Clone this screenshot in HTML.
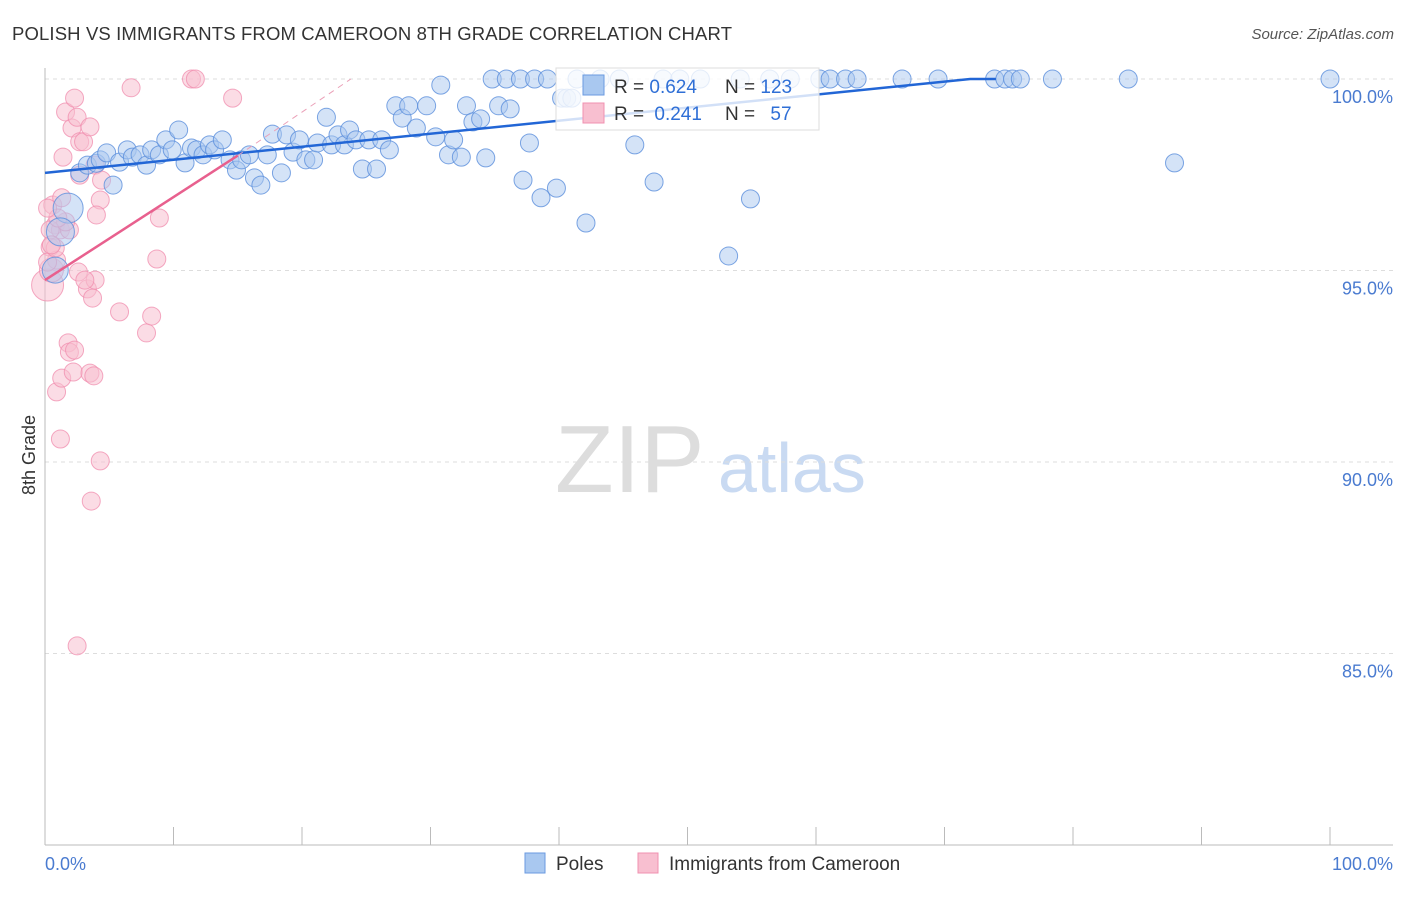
<!DOCTYPE html>
<html><head><meta charset="utf-8"><style>
body{margin:0;background:#fff;font-family:"Liberation Sans",sans-serif;}
svg text{font-family:"Liberation Sans",sans-serif;}
</style></head><body>
<svg id="c" width="1406" height="892" xmlns="http://www.w3.org/2000/svg">
<text x="12" y="40" font-size="18.5" fill="#333" textLength="720">POLISH VS IMMIGRANTS FROM CAMEROON 8TH GRADE CORRELATION CHART</text>
<text x="1394" y="39" font-size="15" fill="#555" font-style="italic" text-anchor="end">Source: ZipAtlas.com</text>
<text x="35" y="455" font-size="18" fill="#333" text-anchor="middle" transform="rotate(-90 35 455)">8th Grade</text>
<text x="555" y="492" font-size="96" fill="#ddd" font-family="Liberation Serif">ZIP</text>
<text x="718" y="492" font-size="70" fill="#c9daf2">atlas</text>
<g id="grid"></g><g id="pts"></g><g id="lines"></g>
<g>
<rect x="556" y="68" width="263" height="62" fill="#fff" fill-opacity="0.8" stroke="#ddd"/>
<rect x="583" y="75" width="21" height="20" fill="#a9c8f0" stroke="#6a9ae0"/>
<rect x="583" y="103" width="21" height="20" fill="#f8bfd0" stroke="#f090b0"/>
<text x="614" y="93" font-size="19" fill="#333">R = <tspan fill="#2f6fd6">0.624</tspan></text>
<text x="725" y="93" font-size="19" fill="#333">N = <tspan fill="#2f6fd6">123</tspan></text>
<text x="614" y="120" font-size="19" fill="#333">R = <tspan fill="#2f6fd6" dx="5">0.241</tspan></text>
<text x="725" y="120" font-size="19" fill="#333">N = <tspan fill="#2f6fd6" dx="10">57</tspan></text>
</g>
<g>
<rect x="525" y="853" width="20" height="20" fill="#a9c8f0" stroke="#6a9ae0"/>
<text x="556" y="870" font-size="19" fill="#333">Poles</text>
<rect x="638" y="853" width="20" height="20" fill="#f8bfd0" stroke="#f090b0"/>
<text x="669" y="870" font-size="19" fill="#333">Immigrants from Cameroon</text>
</g>
</svg>
<script>
const yTicks=[100,95,90,85];
const xTickLabels=["0.0%","100.0%"];
const polesX=[1.8,1.2,0.8,2.7,3.3,4.0,4.3,4.8,5.3,5.8,6.4,6.8,7.4,7.9,8.3,8.9,9.4,9.9,10.4,10.9,11.4,11.8,12.3,12.8,13.2,13.8,14.4,14.9,15.3,15.9,16.3,16.8,17.3,17.7,18.4,18.8,19.3,19.8,20.3,20.9,21.2,21.9,22.3,22.8,23.3,23.7,24.2,24.7,25.2,25.8,26.2,26.8,27.3,27.8,28.3,28.9,29.7,30.4,30.8,31.4,31.8,32.4,32.8,33.3,33.9,34.3,34.8,35.3,35.9,36.2,37.0,37.2,37.7,38.1,38.6,39.1,39.8,40.2,41.4,42.1,43.2,44.7,45.9,47.4,48.1,49.4,51.0,53.2,54.1,54.9,56.4,58.0,60.3,61.1,62.3,63.2,66.7,69.5,73.9,74.7,75.3,75.9,78.4,84.3,87.9,100,40.6,41.0];
const polesY=[96.63,96.01,95.01,97.55,97.75,97.8,97.89,98.07,97.23,97.83,98.15,97.96,98.02,97.75,98.15,98.02,98.41,98.15,98.67,97.81,98.2,98.15,98.02,98.28,98.15,98.41,97.89,97.62,97.89,98.02,97.42,97.23,98.02,98.56,97.55,98.54,98.09,98.41,97.89,97.89,98.33,99.0,98.28,98.54,98.28,98.67,98.41,97.65,98.41,97.65,98.41,98.15,99.3,98.98,99.3,98.72,99.3,98.49,99.84,98.02,98.41,97.96,99.3,98.88,98.96,97.94,100,99.3,100,99.22,100,97.36,98.33,100,96.9,100,97.15,99.5,100,96.24,100,100,98.28,97.31,100,100,100,95.38,100,96.87,100,100,100,100,100,100,100,100,100,100,100,100,100,100,97.81,100,99.5,99.5];
const polesR=[15,14,13,9,9,9,9,9,9,9,9,9,9,9,9,9,9,9,9,9,9,9,9,9,9,9,9,9,9,9,9,9,9,9,9,9,9,9,9,9,9,9,9,9,9,9,9,9,9,9,9,9,9,9,9,9,9,9,9,9,9,9,9,9,9,9,9,9,9,9,9,9,9,9,9,9,9,9,9,9,9,9,9,9,9,9,9,9,9,9,9,9,9,9,9,9,9,9,9,9,9,9,9,9,9,9,9,9];
const camX=[0.2,0.5,0.4,0.8,0.6,1.2,0.9,1.4,1.6,2.1,2.3,2.5,2.7,3.0,3.5,2.7,3.9,4.3,4.4,4.0,0.9,1.3,1.8,1.9,2.2,2.3,3.3,3.7,3.9,3.5,3.8,4.3,3.6,2.5,1.2,5.8,7.9,8.3,8.7,8.9,6.7,11.4,11.7,14.6,2.6,3.1,1.9,1.6,0.4,1.0,0.2,0.8,1.3,0.2,0.5];
const camY=[94.62,95.01,95.61,96.19,96.71,96.06,95.27,97.96,99.14,98.72,99.5,99.0,98.36,98.36,98.75,97.49,97.75,96.84,97.36,96.45,91.83,92.19,93.11,92.87,92.35,92.92,94.52,94.28,94.75,92.32,92.25,90.03,88.98,85.2,90.6,93.92,93.37,93.81,95.3,96.37,99.77,100,100,99.5,94.96,94.75,96.06,96.27,96.06,96.37,95.22,95.59,96.9,96.63,95.67];
const camR=[16,12,9,9,9,9,9,9,9,9,9,9,9,9,9,9,9,9,9,9,9,9,9,9,9,9,9,9,9,9,9,9,9,9,9,9,9,9,9,9,9,9,9,9,9,9,9,9,9,9,9,9,9,9,9];
const blueFit=[[0,97.55],[72,100],[74,100]];
const pinkFit=[[0,94.75],[15,98.0]];
const pinkDash=[[15,98.0],[23.8,100]];
const NS="http://www.w3.org/2000/svg";
const X=v=>45+v*12.85, Y=v=>79+(100-v)*38.3;
function mk(t,a,p){const e=document.createElementNS(NS,t);for(const k in a)e.setAttribute(k,a[k]);p.appendChild(e);return e;}
const svg=document.getElementById('c'),grid=document.getElementById('grid'),pts=document.getElementById('pts'),lines=document.getElementById('lines');
yTicks.forEach(t=>{
 const l=mk('line',{x1:45,x2:1393,y1:Y(t),y2:Y(t),stroke:'#ddd','stroke-dasharray':'4,4'},grid);
 
 
 const tx=mk('text',{x:1393,y:Y(t)+24,'font-size':18,fill:'#4a7bd0','text-anchor':'end'},grid);
 tx.textContent=t.toFixed(1)+'%';
 
 
});
mk('line',{x1:45,x2:45,y1:68,y2:845,stroke:'#bbb'},grid);
mk('line',{x1:45,x2:1393,y1:845,y2:845,stroke:'#bbb'},grid);
for(let i=0;i<=10;i++){const t=mk('line',{x1:X(i*10),x2:X(i*10),y1:827,y2:845,stroke:'#bbb'},grid);
 
 }
const xl0=mk('text',{x:45,y:870,'font-size':18,fill:'#4a7bd0'},grid);xl0.textContent=xTickLabels[0];


const xl1=mk('text',{x:1393,y:870,'font-size':18,fill:'#4a7bd0','text-anchor':'end'},grid);xl1.textContent=xTickLabels[1];


camX.forEach((v,i)=>{const c=mk('circle',{cx:X(v),cy:Y(camY[i]),r:camR[i],fill:'#f8bfd0','fill-opacity':0.55,stroke:'#f08cae','stroke-opacity':0.75},pts);
 
 });
polesX.forEach((v,i)=>{const c=mk('circle',{cx:X(v),cy:Y(polesY[i]),r:polesR[i],fill:'#a9c8f0','fill-opacity':0.5,stroke:'#5b8fdc','stroke-opacity':0.8},pts);
 
 });
const pl=a=>a.map(p=>X(p[0])+','+Y(p[1])).join(' ');
const b=mk('polyline',{points:pl(blueFit),fill:'none',stroke:'#2266d6','stroke-width':2.5},lines);


const p=mk('polyline',{points:pl(pinkFit),fill:'none',stroke:'#e8608e','stroke-width':2.5},lines);


const pd=mk('polyline',{points:pl(pinkDash),fill:'none',stroke:'#eba0b8','stroke-width':1,'stroke-dasharray':'6,5'},lines);


</script>
</body></html>
